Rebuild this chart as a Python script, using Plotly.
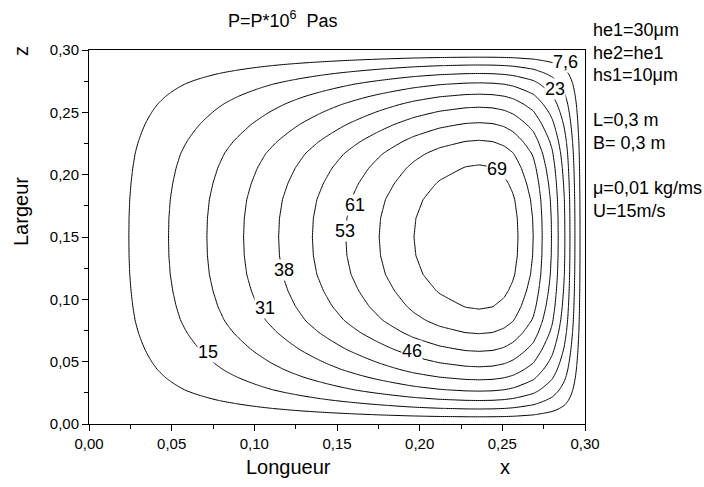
import numpy as np
import plotly.graph_objects as go

# Pressure along the mid-width line (z = 0.15), in units of 1e6 Pa
x_pos = [0.000, 0.0241, 0.0481, 0.0713, 0.0935, 0.1147, 0.1351, 0.1553, 0.1755,
         0.1965, 0.212, 0.228, 0.236, 0.244, 0.251, 0.2565, 0.2595, 0.2687,
         0.2741, 0.2798, 0.2838, 0.2879, 0.2909, 0.2939, 0.2970, 0.300]
p_mid = [0.0, 7.63, 15.26, 22.89, 30.52, 38.15, 45.78, 53.41, 61.04,
         68.67, 73.0, 75.8, 76.3, 75.7, 73.8, 71.0, 68.67, 61.04,
         53.41, 45.78, 38.15, 30.52, 22.89, 15.26, 7.63, 0.0]

# Relative pressure across the width, vs distance from the side edge (symmetric)
edge_dist = [0.000, 0.0058, 0.0122, 0.0191, 0.0271, 0.0371, 0.0435, 0.0492,
             0.0598, 0.0733, 0.083, 0.0946, 0.107, 0.120, 0.135, 0.150]
width_shape = [0.0, 0.101, 0.203, 0.304, 0.410, 0.518, 0.580, 0.628,
               0.712, 0.806, 0.863, 0.910, 0.948, 0.978, 0.995, 1.0]

# Isobar levels (min 0, max 76.3, ten intervals)
contour_levels = [7.63, 15.26, 22.89, 30.52, 38.15, 45.78, 53.41, 61.04, 68.67]

# Where each isobar carries its value
label_level = [7.63, 22.89, 68.67, 61.04, 53.41, 38.15, 30.52, 45.78, 15.26]
label_x = [0.2885, 0.2818, 0.2467, 0.1607, 0.1547, 0.1178, 0.1063, 0.1953, 0.0717]
label_z = [0.290, 0.269, 0.2048, 0.1759, 0.155, 0.1237, 0.0932, 0.0586, 0.0578]

# Pad of length L and width B; the pressure field is the product of the
# lengthwise profile and the widthwise shape, evaluated on a regular mesh
L_len, B_wid = 0.30, 0.30
xg = np.linspace(0, L_len, 241)
zg = np.linspace(0, B_wid, 241)
fx = np.interp(xg, x_pos, p_mid)
gz = np.interp(np.minimum(zg, B_wid - zg), edge_dist, width_shape)
P = np.outer(gz, fx)

FONT = "Arial, Liberation Sans, sans-serif"

fig = go.Figure()
fig.add_trace(go.Contour(
    x=xg, y=zg, z=P,
    contours=dict(start=contour_levels[0], end=contour_levels[-1],
                  size=contour_levels[1] - contour_levels[0],
                  coloring="lines", showlabels=False),
    line=dict(color="black", width=1, smoothing=1.0),
    colorscale=[[0, "black"], [1, "black"]],
    showscale=False, hoverinfo="skip",
))


def fmt(v):
    return f"{v:.2g}".replace(".", ",")


for lv, lx, lz in zip(label_level, label_x, label_z):
    fig.add_annotation(x=lx, y=lz, xref="x", yref="y", text=fmt(lv),
                       showarrow=False, bgcolor="white", borderpad=0,
                       font=dict(family=FONT, size=18, color="black"))

W, H = 704, 487
ml, mr, mt, mb = 89, 119, 50, 63
pw, ph = W - ml - mr, H - mt - mb


def px(xp):
    return (xp - ml) / pw


def py(yp):
    return (H - mb - yp) / ph


side_text = ["he1=30μm", "he2=he1", "hs1=10μm", "", "L=0,3 m", "B= 0,3 m", "",
             "μ=0,01 kg/ms", "U=15m/s"]
for i, t in enumerate(side_text):
    if t:
        fig.add_annotation(x=px(591), y=py(30 + 22.6 * i), xref="paper", yref="paper",
                           text=t, showarrow=False, xanchor="left", yanchor="middle",
                           font=dict(family=FONT, size=18, color="black"))

extra = [
    dict(text="P=P*10<sup>6</sup>  Pas", x=px(283), y=py(20), size=18),
    dict(text="Longueur", x=px(288), y=py(467), size=20),
    dict(text="x", x=px(505), y=py(467), size=20),
    dict(text="Largeur", x=px(21), y=py(212), textangle=-90, size=20),
    dict(text="z", x=px(21), y=py(51), textangle=-90, size=20),
]
for e in extra:
    size = e.pop("size")
    fig.add_annotation(xref="paper", yref="paper", showarrow=False,
                       xanchor="center", yanchor="middle",
                       font=dict(family=FONT, size=size, color="black"), **e)

axis_common = dict(
    range=[0, 0.30], showgrid=False, zeroline=False, showline=True,
    linecolor="black", linewidth=1, mirror=True, ticks="outside", ticklen=6,
    tickcolor="black", tickwidth=1, tickformat=".2f",
    tickvals=[0, 0.05, 0.10, 0.15, 0.20, 0.25, 0.30],
    tickfont=dict(family=FONT, size=15, color="black"),
    minor=dict(dtick=0.025, ticks="outside", ticklen=4, tickcolor="black", tick0=0),
)

fig.update_layout(
    width=W, height=H, margin=dict(l=ml, r=mr, t=mt, b=mb),
    paper_bgcolor="white", plot_bgcolor="white", separators=",.",
    xaxis=axis_common, yaxis=axis_common, showlegend=False,
)

fig.write_html("out.html")
